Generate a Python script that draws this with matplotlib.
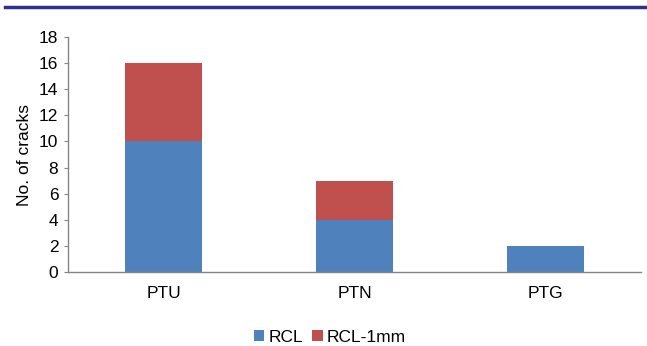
import matplotlib.pyplot as plt
import numpy as np
from matplotlib.lines import Line2D

plt.rcParams['font.family'] = ['Liberation Sans', 'DejaVu Sans']

categories = ["PTU", "PTN", "PTG"]
rcl = [10, 4, 2]
rcl_1mm = [6, 3, 0]

fig = plt.figure(figsize=(6.47, 3.46), dpi=100)
ax = fig.add_axes([68/647, 1 - 272/346, 573/647, 235/346])

x = np.arange(len(categories))
ax.bar(x, rcl, width=0.4, color="#4F81BD", label="RCL")
ax.bar(x, rcl_1mm, width=0.4, bottom=rcl, color="#C0504D", label="RCL-1mm")

ax.set_xlim(-0.5, 2.5)
ax.set_ylim(0, 18)
ax.set_yticks(range(0, 19, 2))
ax.set_xticks(x)
ax.set_xticklabels(categories)
ax.tick_params(axis="y", labelsize=12.5, length=3, color="#868686", pad=4)
ax.tick_params(axis="x", labelsize=12.5, length=0, pad=10)
ax.set_ylabel("No. of cracks", fontsize=12.5, labelpad=5)

for s in ["top", "right"]:
    ax.spines[s].set_visible(False)
for s in ["left", "bottom"]:
    ax.spines[s].set_color("#868686")
    ax.spines[s].set_linewidth(1)

handles, labels = ax.get_legend_handles_labels()
fig.legend(handles, labels, loc="center", bbox_to_anchor=(330/647, 1 - 337/346), ncol=2,
           frameon=False, fontsize=12.5, handlelength=0.6, handleheight=0.6,
           handletextpad=0.25, columnspacing=0.5)

# blue rule at the top of the page
fig.add_artist(Line2D([5/647, 1], [1 - 7/346, 1 - 7/346], color="#2E3192", lw=2.5))

fig.savefig("out.png", dpi=100)
